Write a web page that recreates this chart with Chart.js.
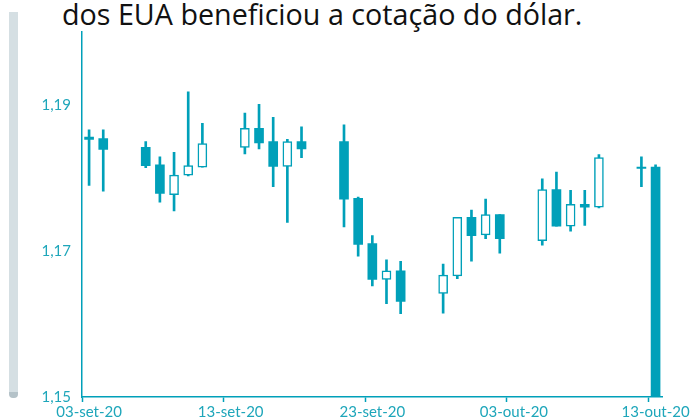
<!DOCTYPE html>
<html>
<head>
<meta charset="utf-8">
<script src="https://cdn.jsdelivr.net/npm/chart.js@4"></script>
<style>
  html, body { margin: 0; padding: 0; background: #fff; }
  body { width: 691px; height: 418px; position: relative; overflow: hidden; }
  .barra { position: absolute; left: 9px; top: 12px; width: 9px; height: 380px;
           background: #d5dfe3; border-bottom: 6px solid #b4c2c8; border-radius: 0 0 4px 4px; }
  .titulo { position: absolute; left: 62px; top: -6px; font-family: "Open Sans", sans-serif;
            font-size: 28.7px; color: #111; white-space: nowrap; }
  #wrap { position: absolute; left: 0; top: 0; width: 691px; height: 418px; }
</style>
</head>
<body>
<div class="barra"></div>
<div class="titulo">dos EUA beneficiou a cotação do dólar.</div>
<div id="wrap"><canvas id="grafico" width="691" height="418"></canvas></div>
<script>
// dias corridos de 03-set-20 a 13-out-20 (fins de semana sem cotação)
const dias = ['03-set-20','04-set-20','05-set-20','06-set-20','07-set-20','08-set-20','09-set-20',
  '10-set-20','11-set-20','12-set-20','13-set-20','14-set-20','15-set-20','16-set-20','17-set-20',
  '18-set-20','19-set-20','20-set-20','21-set-20','22-set-20','23-set-20','24-set-20','25-set-20',
  '26-set-20','27-set-20','28-set-20','29-set-20','30-set-20','01-out-20','02-out-20','03-out-20',
  '04-out-20','05-out-20','06-out-20','07-out-20','08-out-20','09-out-20','10-out-20','11-out-20',
  '12-out-20','13-out-20'];

const abertura = [1.1856,1.1854,null,null,1.1842,1.1818,1.1777,1.1804,1.1815,null,null,
  1.1842,1.1868,1.1850,1.1816,1.1850,null,null,1.1850,1.1772,1.1710,1.1661,1.1673,null,null,
  1.1642,1.1666,1.1746,1.1722,1.1750,null,null,1.1714,1.1784,1.1734,1.1764,1.1760,null,null,
  1.1815,1.1815];
const maxima = [1.1866,1.1866,null,null,1.1850,1.1829,1.1835,1.1918,1.1875,null,null,
  1.1889,1.1901,1.1883,1.1853,1.1870,null,null,1.1873,1.1774,1.1721,1.1688,1.1686,null,null,
  1.1682,1.1746,1.1756,1.1771,1.1750,null,null,1.1799,1.1808,1.1783,1.1783,1.1832,null,null,
  1.1829,1.1818];
const minimas = [1.1790,1.1782,null,null,1.1814,1.1767,1.1755,1.1803,1.1815,null,null,
  1.1833,1.1840,1.1788,1.1739,1.1828,null,null,1.1733,1.1693,1.1652,1.1628,1.1614,null,null,
  1.1615,1.1662,1.1686,1.1717,1.1697,null,null,1.1708,1.1734,1.1727,1.1735,1.1759,null,null,
  1.1788,1.1500];
const fechamento = [1.1853,1.1839,null,null,1.1817,1.1779,1.1804,1.1817,1.1847,null,null,
  1.1868,1.1848,1.1816,1.1850,1.1840,null,null,1.1771,1.1709,1.1661,1.1673,1.1631,null,null,
  1.1667,1.1746,1.1721,1.1750,1.1717,null,null,1.1784,1.1734,1.1764,1.1760,1.1828,null,null,
  1.1813,1.1500];

const rotulosX = ['03-set-20','13-set-20','23-set-20','03-out-20','13-out-20'];
const ticksY = [1.15, 1.17, 1.19];

const azul = '#00a0b9';
const azulTexto = '#1ea6ba';

const pavios = dias.map((d, i) => maxima[i] == null ? null : [minimas[i], maxima[i]]);
const corpos = dias.map((d, i) => abertura[i] == null ? null : [abertura[i], fechamento[i]]);
const preenchido = dias.map((d, i) => abertura[i] != null && fechamento[i] < abertura[i]);

new Chart(document.getElementById('grafico'), {
  type: 'bar',
  data: {
    labels: dias,
    datasets: [
      {
        label: 'corpo',
        data: corpos,
        grouped: false,
        order: 1,
        barThickness: 9,
        backgroundColor: preenchido.map(p => p ? azul : '#ffffff'),
        borderColor: azul,
        borderWidth: preenchido.map(p => p ? 0 : 1.5),
        borderSkipped: false
      },
      {
        label: 'pavio',
        data: pavios,
        grouped: false,
        order: 2,
        barThickness: 2,
        backgroundColor: azul,
        borderWidth: 0
      }
    ]
  },
  options: {
    responsive: false,
    animation: false,
    devicePixelRatio: 1,
    layout: { padding: { top: 32, right: 27, left: 0, bottom: 0 } },
    plugins: { legend: { display: false }, tooltip: { enabled: false } },
    scales: {
      x: {
        type: 'category',
        offset: true,
        afterFit: s => { s.height = 21; },
        grid: {
          offset: true,
          drawOnChartArea: false,
          drawTicks: true,
          tickLength: 5,
          tickWidth: 1.5,
          color: ctx => (ctx.index % 10 === 0 && ctx.index < dias.length) ? azul : 'rgba(0,0,0,0)'
        },
        border: { display: true, color: azul, width: 1.5 },
        ticks: {
          autoSkip: false,
          maxRotation: 0,
          padding: 1,
          color: azulTexto,
          font: { family: 'Lato', size: 15 },
          callback: function (v, i) {
            const l = dias[i];
            return rotulosX.includes(l) ? l : '';
          }
        }
      },
      y: {
        min: 1.15,
        max: 1.2,
        afterFit: s => { s.width = 82; },
        afterBuildTicks: s => { s.ticks = ticksY.map(v => ({ value: v })); },
        grid: { display: false, drawTicks: false },
        border: { display: true, color: azul, width: 1.5 },
        ticks: {
          padding: 11,
          color: azulTexto,
          font: { family: 'Lato', size: 15 },
          callback: v => v.toFixed(2).replace('.', ',')
        }
      }
    }
  }
});
</script>
</body>
</html>
